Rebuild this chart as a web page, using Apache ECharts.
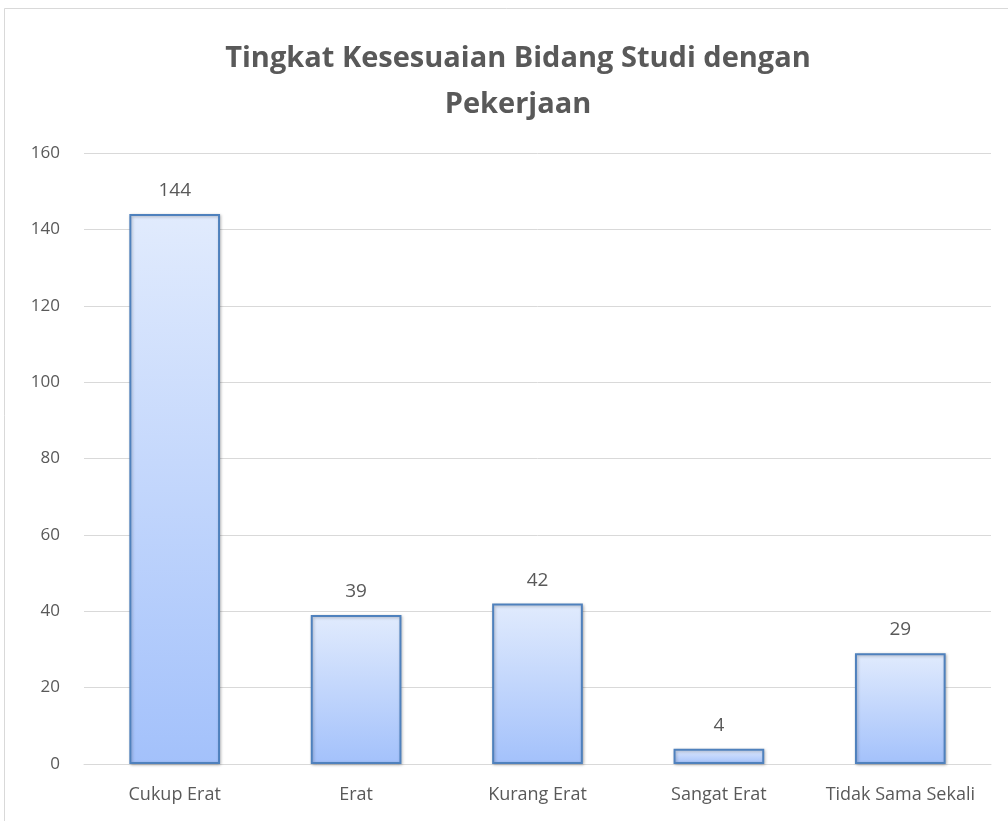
<!DOCTYPE html>
<html>
<head>
<meta charset="utf-8">
<script src="https://cdn.jsdelivr.net/npm/echarts@6/dist/echarts.min.js"></script>
<style>
    html, body { margin: 0; padding: 0; background: #fff; }
    #chart { width: 1008px; height: 821px; }
</style>
</head>
<body>
<div id="chart"></div>
<script>
// data
var categories = ['Cukup Erat', 'Erat', 'Kurang Erat', 'Sangat Erat', 'Tidak Sama Sekali'];
var values = [144, 39, 42, 4, 29];
var yTicks = [0, 20, 40, 60, 80, 100, 120, 140, 160];

var textColor = '#595959';
var fontName = '"Open Sans", "Noto Sans", sans-serif';

var chart = echarts.init(document.getElementById('chart'));
chart.setOption({
    animation: false,
    backgroundColor: '#fff',
    graphic: [
        {
            // chart frame
            type: 'rect',
            shape: { x: 4.5, y: 8.5, width: 1030, height: 840 },
            style: { fill: 'none', stroke: '#d9d9d9', lineWidth: 1 },
            silent: true
        }
    ],
    title: {
        text: 'Tingkat Kesesuaian Bidang Studi dengan\nPekerjaan',
        left: 513,
        top: 31,
        textAlign: 'center',
        textStyle: {
            color: textColor,
            fontFamily: fontName,
            fontWeight: 'bold',
            fontSize: 29,
            lineHeight: 46
        }
    },
    grid: {
        left: 84,
        right: 17,
        top: 153,
        bottom: 57,
        containLabel: false
    },
    xAxis: {
        type: 'category',
        data: categories,
        axisLine: { show: true, lineStyle: { color: '#d9d9d9', width: 1 } },
        axisTick: { show: false },
        axisLabel: {
            interval: 0,
            hideOverlap: false,
            color: textColor,
            fontFamily: fontName,
            fontSize: 18,
            margin: 22
        }
    },
    yAxis: {
        type: 'value',
        min: yTicks[0],
        max: yTicks[yTicks.length - 1],
        interval: 20,
        axisLine: { show: false },
        axisTick: { show: false },
        splitLine: { lineStyle: { color: '#d9d9d9', width: 1 } },
        axisLabel: {
            color: textColor,
            fontFamily: fontName,
            fontSize: 17,
            margin: 24
        }
    },
    series: [
        {
            type: 'bar',
            data: values,
            barWidth: '50%',
            itemStyle: {
                color: new echarts.graphic.LinearGradient(0, 0, 0, 1, [
                    { offset: 0, color: '#e1ebfd' },
                    { offset: 1, color: '#a3c1fb' }
                ]),
                borderColor: '#4f81bd',
                borderWidth: 2,
                shadowColor: 'rgba(0,0,0,0.25)',
                shadowBlur: 3,
                shadowOffsetX: 1,
                shadowOffsetY: 1
            },
            label: {
                show: true,
                position: 'top',
                distance: 14,
                color: textColor,
                fontFamily: fontName,
                fontSize: 19
            }
        }
    ]
});
</script>
</body>
</html>
